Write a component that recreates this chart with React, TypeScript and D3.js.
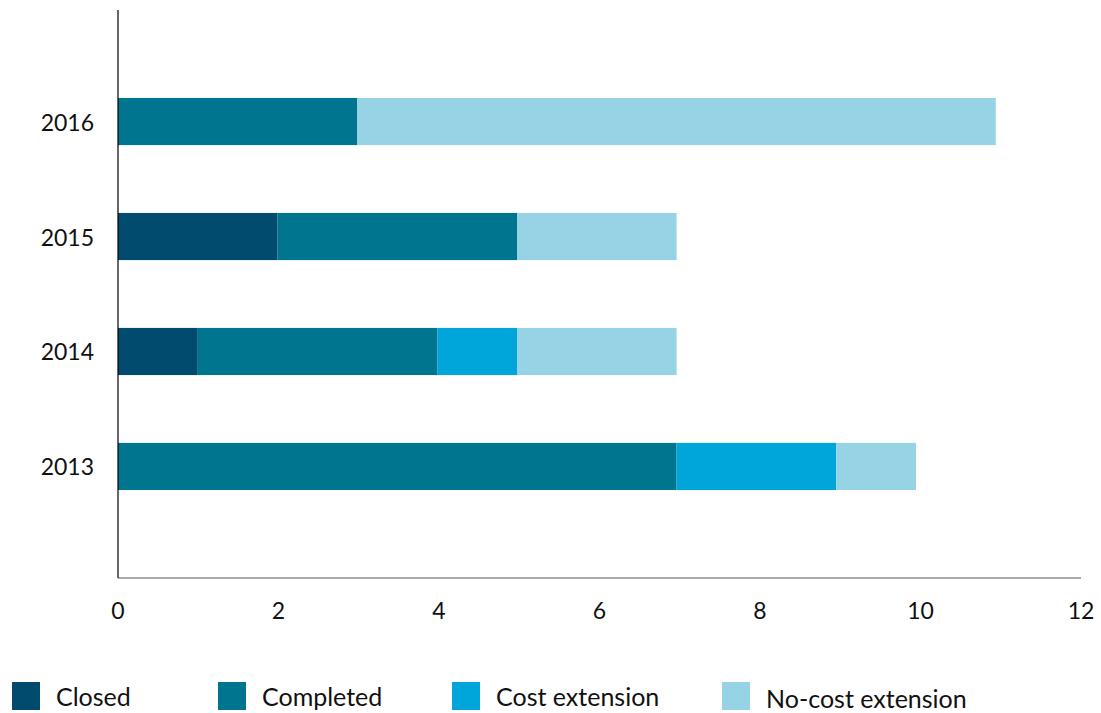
import React from "react";
import * as d3 from "d3";

const years = ["2013", "2014", "2015", "2016"];
const closed = [0, 1, 2, 0];
const completed = [7, 3, 3, 3];
const costExtension = [2, 1, 0, 0];
const noCostExtension = [1, 2, 2, 8];
const seriesNames = ["Closed", "Completed", "Cost extension", "No-cost extension"];
const seriesColors = ["#004b6e", "#00758f", "#00a6d9", "#96d4e5"];
const xTicks = [0, 2, 4, 6, 8, 10, 12];

const W = 1101;
const H = 713;
const left = 118;
const right = 1081;
const top = 10;
const bottom = 578;
const FONT = "Lato, 'Noto Sans', sans-serif";

export default function App() {
  const rows = years.map((y, i) => ({
    year: y,
    Closed: closed[i],
    Completed: completed[i],
    "Cost extension": costExtension[i],
    "No-cost extension": noCostExtension[i],
  }));
  const stack = d3.stack<any>().keys(seriesNames)(rows);
  const x = d3.scaleLinear().domain([0, 12]).range([left, right]);
  const xb = d3.scaleLinear().domain([0, 12]).range([left, left + 12 * 79.8]);
  const y = d3
    .scaleBand()
    .domain([...years].reverse())
    .range([top, bottom])
    .paddingInner(0.59)
    .paddingOuter(0.765);

  const legendX = [12, 218, 452, 722];
  const legendTextDy = [0, 0, 0, 2];

  return (
    <svg
      width={W}
      height={H}
      style={{ position: "absolute", left: 0, top: 0, background: "#fff" }}
      fontFamily={FONT}
    >
      {stack.map((s, si) => (
        <g key={s.key} fill={seriesColors[si]}>
          {s.map((d, i) =>
            d[1] - d[0] > 0 ? (
              <rect
                key={i}
                x={xb(d[0])}
                y={y(d.data.year)!}
                width={xb(d[1]) - xb(d[0])}
                height={y.bandwidth()}
              />
            ) : null
          )}
        </g>
      ))}
      <line x1={left} x2={left} y1={top} y2={bottom} stroke="#000" strokeWidth={1.2} />
      <line x1={left} x2={right} y1={bottom} y2={bottom} stroke="#555" strokeWidth={1.2} />
      {years.map((yr) => (
        <text
          key={yr}
          x={94}
          y={y(yr)! + y.bandwidth() / 2}
          textAnchor="end"
          dominantBaseline="central"
          fontSize={23}
          fill="#111"
        >
          {yr}
        </text>
      ))}
      {xTicks.map((t) => (
        <text
          key={t}
          x={x(t)}
          y={610}
          textAnchor="middle"
          dominantBaseline="central"
          fontSize={23}
          fill="#111"
        >
          {t}
        </text>
      ))}
      {seriesNames.map((n, i) => (
        <g key={n}>
          <rect x={legendX[i]} y={682} width={28} height={28} fill={seriesColors[i]} />
          <text
            x={legendX[i] + 44}
            y={696 + legendTextDy[i]}
            dominantBaseline="central"
            fontSize={25}
            fill="#111"
          >
            {n}
          </text>
        </g>
      ))}
    </svg>
  );
}
